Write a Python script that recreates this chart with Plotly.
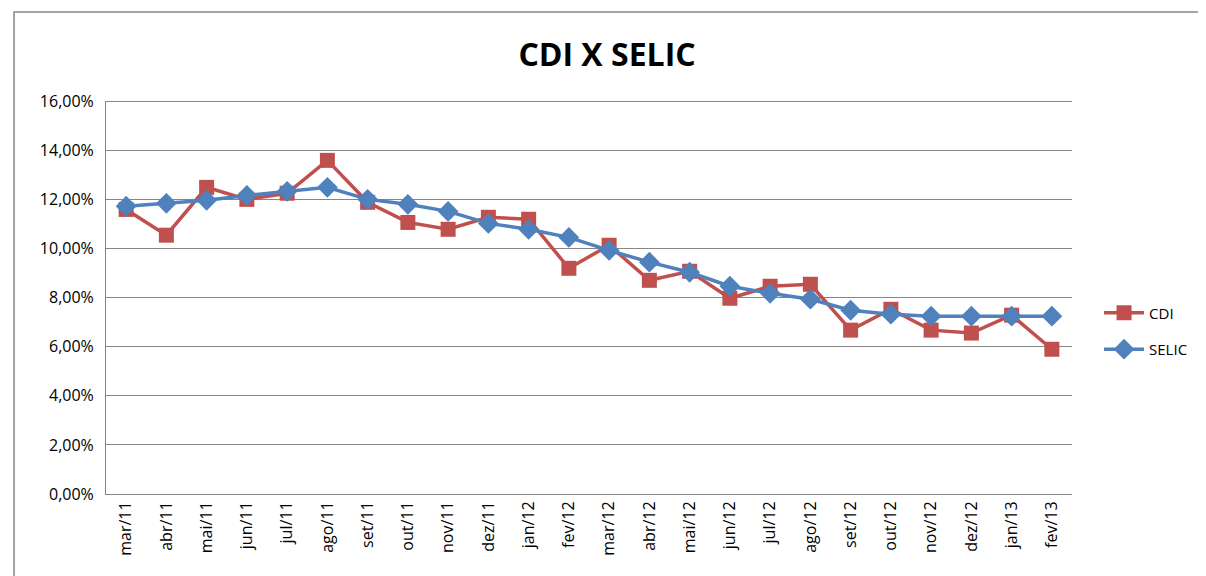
import plotly.graph_objects as go

# --- Data ---
months = ["mar/11", "abr/11", "mai/11", "jun/11", "jul/11", "ago/11", "set/11", "out/11",
          "nov/11", "dez/11", "jan/12", "fev/12", "mar/12", "abr/12", "mai/12", "jun/12",
          "jul/12", "ago/12", "set/12", "out/12", "nov/12", "dez/12", "jan/13", "fev/13"]
cdi = [11.60, 10.55, 12.50, 12.01, 12.26, 13.60, 11.89, 11.07, 10.79, 11.28, 11.20, 9.20,
       10.14, 8.71, 9.08, 7.98, 8.47, 8.55, 6.68, 7.53, 6.68, 6.56, 7.29, 5.90]
selic = [11.73, 11.85, 11.97, 12.17, 12.34, 12.50, 12.01, 11.81, 11.52, 11.03, 10.79, 10.46,
         9.93, 9.45, 9.04, 8.47, 8.18, 7.94, 7.49, 7.33, 7.25, 7.25, 7.25, 7.25]
y_ticks = [0, 2, 4, 6, 8, 10, 12, 14, 16]
y_labels = ["0,00%", "2,00%", "4,00%", "6,00%", "8,00%", "10,00%", "12,00%", "14,00%", "16,00%"]

fig = go.Figure()

fig.add_trace(go.Scatter(
    x=months, y=cdi, mode="lines+markers", name="CDI", legendgroup="cdi",
    line=dict(color="#C0504D", width=3.5),
    marker=dict(symbol="square", size=15, color="#C0504D"),
))
fig.add_trace(go.Scatter(
    x=months, y=selic, mode="lines+markers", name="SELIC", legendgroup="selic",
    line=dict(color="#4F81BD", width=3.5),
    marker=dict(symbol="diamond", size=16, color="#4F81BD"),
))

# outer chart border
fig.add_shape(type="rect", xref="paper", yref="paper",
              x0=-0.0952, x1=1.1356, y0=-0.3, y1=1.2265,
              line=dict(color="#868686", width=1.5), layer="below")
# top gridline (the axis end hides plotly's own one)
fig.add_shape(type="line", xref="paper", yref="y", x0=0, x1=1, y0=y_ticks[-1], y1=y_ticks[-1],
              line=dict(color="#868686", width=1), layer="below")

# page body has an 8px margin, so the figure is sized/offset for that
fig.update_layout(
    width=1198, height=568,
    paper_bgcolor="white", plot_bgcolor="white",
    margin=dict(l=98, r=134, t=93, b=82),
    font=dict(family="Open Sans, Liberation Sans, sans-serif", size=15, color="black"),
    title=dict(text="<b>CDI X SELIC</b>", x=0.5, xanchor="center", y=0.917, yanchor="middle",
               font=dict(size=32, color="black")),
    legend=dict(x=1.028, y=0.415, xanchor="left", yanchor="middle", traceorder="grouped",
                font=dict(size=15), tracegroupgap=14, itemwidth=40),
    showlegend=True,
)
fig.update_xaxes(
    type="category", range=[-0.5, len(months) - 0.5], tickangle=-90, showgrid=False,
    showline=True, linecolor="#868686", linewidth=1,
    ticks="", tickfont=dict(size=16),
)
fig.update_yaxes(
    range=[0, 16.02], tickvals=y_ticks, ticktext=y_labels,
    showgrid=True, gridcolor="#868686", gridwidth=1,
    showline=True, linecolor="#868686", linewidth=1,
    ticks="", zeroline=False, ticklabelstandoff=8,
    tickfont=dict(size=16),
)

fig.write_html("out.html")
